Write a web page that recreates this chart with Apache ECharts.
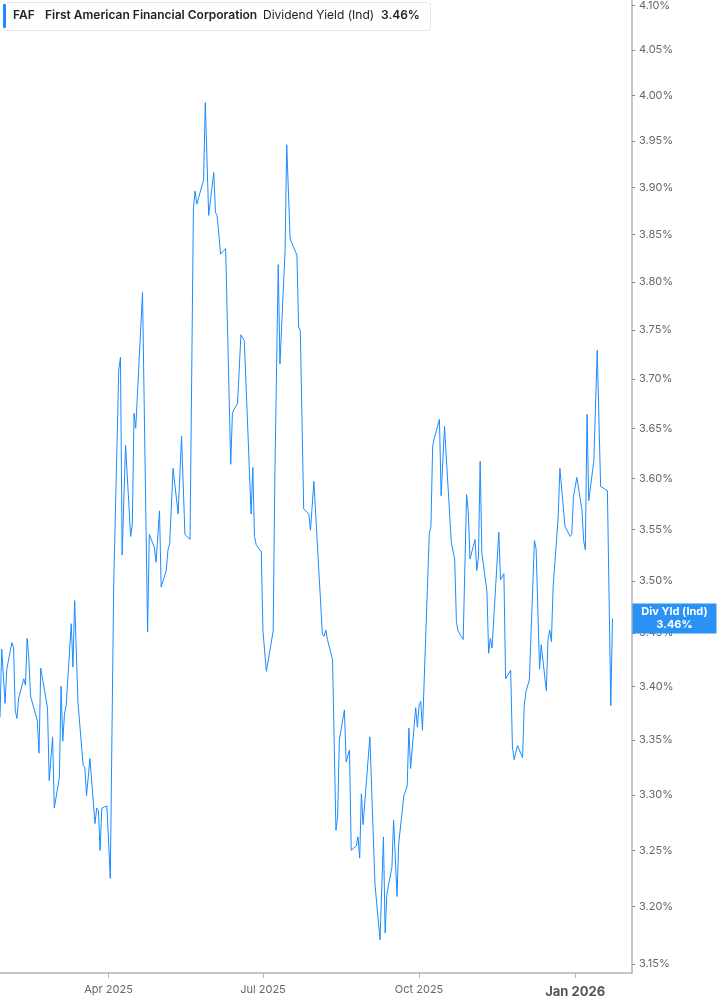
<!DOCTYPE html>
<html>
<head>
<meta charset="utf-8">
<style>
html,body{margin:0;padding:0;background:#fff;}
#chart{width:717px;height:1005px;}
</style>
<script src="https://cdn.jsdelivr.net/npm/echarts@6/dist/echarts.min.js"></script>
</head>
<body>
<div id="chart"></div>
<script>
const ticker = 'FAF';
const company = 'First American Financial Corporation';
const metric = 'Dividend Yield (Ind)';
const metricShort = 'Div Yld (Ind)';

const dates = [
'2025-01-27','2025-01-28','2025-01-30','2025-01-31','2025-02-03','2025-02-04','2025-02-05','2025-02-06','2025-02-07','2025-02-10',
'2025-02-11','2025-02-12','2025-02-13','2025-02-14','2025-02-18','2025-02-19','2025-02-20','2025-02-24','2025-02-25','2025-02-27',
'2025-02-28','2025-03-03','2025-03-04','2025-03-05','2025-03-06','2025-03-07','2025-03-10','2025-03-11','2025-03-12','2025-03-14',
'2025-03-17','2025-03-18','2025-03-19','2025-03-21','2025-03-24','2025-03-25','2025-03-26','2025-03-27','2025-03-28','2025-03-31',
'2025-04-02','2025-04-04','2025-04-07','2025-04-08','2025-04-09','2025-04-11','2025-04-14','2025-04-15','2025-04-16','2025-04-17',
'2025-04-21','2025-04-24','2025-04-25','2025-04-28','2025-04-29','2025-05-01','2025-05-02','2025-05-05','2025-05-06','2025-05-07',
'2025-05-09','2025-05-12','2025-05-14','2025-05-16','2025-05-19','2025-05-21','2025-05-22','2025-05-23','2025-05-27','2025-05-28',
'2025-05-30','2025-06-02','2025-06-03','2025-06-04','2025-06-05','2025-06-06','2025-06-09','2025-06-12','2025-06-13','2025-06-16',
'2025-06-17','2025-06-18','2025-06-20','2025-06-24','2025-06-25','2025-06-26','2025-06-27','2025-06-30','2025-07-01','2025-07-03',
'2025-07-07','2025-07-08','2025-07-09','2025-07-10','2025-07-11','2025-07-14','2025-07-15','2025-07-17','2025-07-21','2025-07-22',
'2025-07-23','2025-07-25','2025-07-28','2025-07-29','2025-07-31','2025-08-05','2025-08-06','2025-08-07','2025-08-08','2025-08-11',
'2025-08-13','2025-08-14','2025-08-15','2025-08-18','2025-08-19','2025-08-21','2025-08-22','2025-08-25','2025-08-26','2025-08-27',
'2025-08-28','2025-08-29','2025-09-02','2025-09-05','2025-09-08','2025-09-10','2025-09-11','2025-09-12','2025-09-15','2025-09-16',
'2025-09-18','2025-09-19','2025-09-22','2025-09-24','2025-09-25','2025-09-26','2025-09-29','2025-09-30','2025-10-01','2025-10-02',
'2025-10-03','2025-10-07','2025-10-08','2025-10-09','2025-10-10','2025-10-13','2025-10-14','2025-10-16','2025-10-20','2025-10-21',
'2025-10-22','2025-10-23','2025-10-24','2025-10-27','2025-10-29','2025-10-30','2025-10-31','2025-11-03','2025-11-04','2025-11-05',
'2025-11-06','2025-11-07','2025-11-10','2025-11-11','2025-11-12','2025-11-13','2025-11-17','2025-11-18','2025-11-19','2025-11-20',
'2025-11-21','2025-11-24','2025-11-25','2025-11-26','2025-11-28','2025-12-01','2025-12-02','2025-12-03','2025-12-04','2025-12-05',
'2025-12-08','2025-12-09','2025-12-11','2025-12-12','2025-12-15','2025-12-16','2025-12-17','2025-12-18','2025-12-19','2025-12-22',
'2025-12-23','2025-12-26','2025-12-29','2025-12-30','2025-12-31','2026-01-02','2026-01-05','2026-01-06','2026-01-07','2026-01-08',
'2026-01-09','2026-01-12','2026-01-14','2026-01-16','2026-01-20','2026-01-22','2026-01-23'
];

const yields = [
3.371,3.435,3.384,3.416,3.441,3.436,3.377,3.370,3.389,3.407,
3.401,3.445,3.426,3.391,3.368,3.338,3.417,3.380,3.313,3.353,
3.288,3.316,3.400,3.349,3.374,3.382,3.459,3.418,3.481,3.384,
3.327,3.325,3.299,3.333,3.274,3.288,3.286,3.250,3.288,3.290,
3.225,3.495,3.709,3.722,3.525,3.633,3.543,3.555,3.665,3.650,
3.789,3.451,3.545,3.532,3.518,3.568,3.494,3.510,3.530,3.536,
3.610,3.565,3.642,3.545,3.540,3.878,3.896,3.882,3.908,3.992,
3.870,3.916,3.873,3.870,3.872,3.829,3.835,3.614,3.666,3.675,
3.677,3.745,3.739,3.565,3.611,3.543,3.535,3.528,3.452,3.414,
3.452,3.602,3.603,3.818,3.715,3.832,3.946,3.845,3.828,3.753,
3.749,3.570,3.565,3.549,3.597,3.449,3.447,3.453,3.444,3.425,
3.268,3.280,3.350,3.378,3.330,3.341,3.250,3.254,3.262,3.243,
3.301,3.273,3.353,3.220,3.171,3.262,3.177,3.211,3.235,3.277,
3.209,3.256,3.299,3.308,3.361,3.324,3.380,3.362,3.382,3.386,
3.359,3.545,3.553,3.632,3.640,3.659,3.583,3.652,3.537,3.536,
3.521,3.461,3.452,3.444,3.584,3.567,3.521,3.540,3.510,3.523,
3.617,3.527,3.490,3.431,3.445,3.436,3.547,3.501,3.502,3.507,
3.407,3.415,3.345,3.332,3.345,3.334,3.382,3.395,3.395,3.406,
3.539,3.531,3.416,3.439,3.396,3.444,3.453,3.442,3.494,3.562,
3.610,3.553,3.543,3.545,3.582,3.601,3.569,3.539,3.530,3.664,
3.578,3.617,3.729,3.592,3.588,3.382,3.464
];

const yTicks = [3.15,3.20,3.25,3.30,3.35,3.40,3.45,3.50,3.55,3.60,3.65,3.70,3.75,3.80,3.85,3.90,3.95,4.00,4.05,4.10];
const xTicks = ['2025-04-01','2025-07-01','2025-10-01','2026-01-01'];
const xRange = ['2025-01-27','2026-02-03'];
const monthNames = ['Jan','Feb','Mar','Apr','May','Jun','Jul','Aug','Sep','Oct','Nov','Dec'];

const ts = s => Date.parse(s + 'T00:00:00Z');
const lastVal = yields[yields.length - 1];
const lineColor = '#1a8cff';
const boxColor = '#2a92f4';
const FONT = 'Inter, "Noto Sans", sans-serif';

const chart = echarts.init(document.getElementById('chart'));
const seriesData = dates.map((d, i) => [ts(d), yields[i]]);
const xTickVals = xTicks.map(ts);

chart.setOption({
  animation: false,
  backgroundColor: '#fff',
  grid: { left: 0, right: 85, top: 0, bottom: 32, containLabel: false },
  xAxis: {
    type: 'value',
    min: ts(xRange[0]),
    max: ts(xRange[1]) + 12 * 3600 * 1000,
    scale: true,
    splitLine: { show: false },
    axisLine: { show: true, lineStyle: { color: '#b4b4b4', width: 1.5 } },
    axisTick: { show: true, length: 5, lineStyle: { color: '#b4b4b4', width: 1 }, customValues: xTickVals },
    axisLabel: {
      customValues: xTickVals,
      margin: 11,
      color: '#666',
      fontFamily: FONT,
      fontSize: 11,
      formatter: function (val) {
        const d = new Date(val);
        const s = monthNames[d.getUTCMonth()] + ' ' + d.getUTCFullYear();
        return d.getUTCMonth() === 0 ? '{b|' + s + '}' : s;
      },
      rich: {
        b: { fontWeight: 'bold', fontSize: 13, color: '#555', fontFamily: FONT, padding: [2, 0, 0, 0] }
      }
    }
  },
  yAxis: {
    type: 'log',
    logBase: 10,
    position: 'right',
    min: 3.1422,
    max: 4.1057,
    splitLine: { show: false },
    axisLine: { show: true, lineStyle: { color: '#b4b4b4', width: 1.5 } },
    axisTick: { show: true, length: 3, inside: false, lineStyle: { color: '#888' }, customValues: yTicks },
    axisLabel: {
      customValues: yTicks,
      margin: 7,
      color: '#666',
      fontFamily: FONT,
      fontSize: 11,
      formatter: function (v) { return Number(v).toFixed(2) + '%'; }
    }
  },
  series: [{
    type: 'line',
    data: seriesData,
    showSymbol: false,
    symbol: 'none',
    clip: false,
    lineStyle: { color: lineColor, width: 1 },
    itemStyle: { color: lineColor },
    z: 3,
    endLabel: {
      show: true,
      distance: 62,
      formatter: function () { return metricShort + '\n' + lastVal.toFixed(2) + '%'; },
      backgroundColor: boxColor,
      color: '#fff',
      fontFamily: FONT,
      fontWeight: 'bold',
      fontSize: 11,
      lineHeight: 13,
      width: 72,
      align: 'center',
      padding: [2, 6, 2, 6]
    }
  }],
  graphic: [
    { type: 'rect', left: 3, top: 2, shape: { width: 427, height: 28, r: 3 }, style: { fill: '#fff', stroke: '#e6e6e6', lineWidth: 1 }, z: 10 },
    { type: 'rect', left: 3, top: 4, shape: { width: 3, height: 24, r: 1 }, style: { fill: lineColor }, z: 11 },
    { type: 'text', left: 13, top: 9, style: { text: ticker, font: '600 12px ' + FONT, fill: '#222' }, z: 11 },
    { type: 'text', left: 45, top: 9, style: { text: company, font: '600 12px ' + FONT, fill: '#222' }, z: 11 },
    { type: 'text', left: 263, top: 9, style: { text: metric, font: '12px ' + FONT, fill: '#222' }, z: 11 },
    { type: 'text', left: 381, top: 9, style: { text: lastVal.toFixed(2) + '%', font: '600 12px ' + FONT, fill: '#222' }, z: 11 }
  ]
});
</script>
</body>
</html>
